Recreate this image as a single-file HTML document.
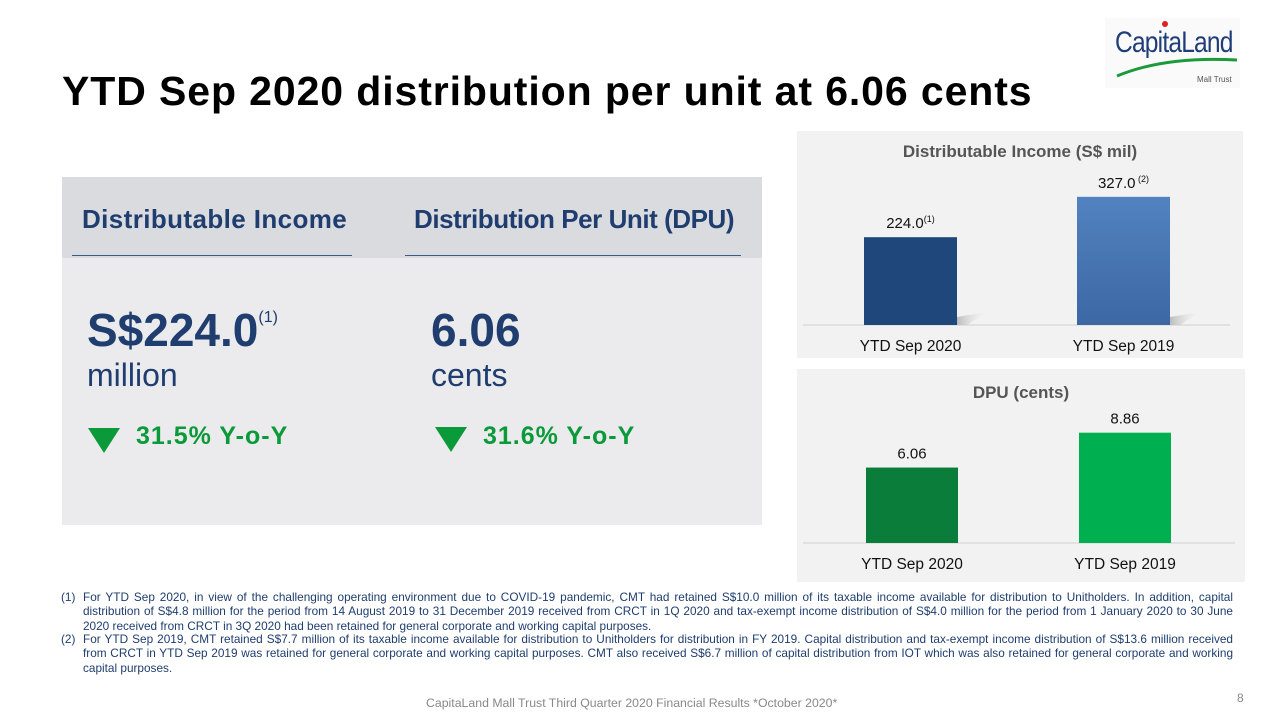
<!DOCTYPE html>
<html><head><meta charset="utf-8"><style>
body{margin:0;width:1273px;height:713px;position:relative;background:#fff;font-family:"Liberation Sans",sans-serif;overflow:hidden}
.a{position:absolute}
.fn{position:absolute;left:61px;width:1172px;font-size:11.8px;line-height:14.3px;color:#1f3d6e;text-align:justify}
.fn .n{position:absolute;left:0}
.fn .t{margin-left:22px;text-align:justify;text-align-last:left}
</style></head><body>
<div class="a" style="left:62px;top:68px;font-size:41px;font-weight:bold;color:#000;letter-spacing:0.9px">YTD Sep 2020 distribution per unit at 6.06 cents</div>
<div class="a" style="left:1105px;top:18px;width:135px;height:70px;background:#fafafa">
  <div class="a" style="left:10px;top:8px;font-size:30px;color:#1f3d7a;letter-spacing:-1px;transform:scaleX(0.82);transform-origin:left">CapitaLand</div>
  <div class="a" style="left:57px;top:3px;width:6px;height:6px;border-radius:50%;background:#e02020"></div>
  <svg class="a" style="left:10px;top:38px" width="125" height="22"><path d="M2 20 Q50 0 122 4" stroke="#1a9a3a" stroke-width="3" fill="none"/></svg>
  <div class="a" style="left:92px;top:57px;font-size:8px;color:#555">Mall Trust</div>
</div>

<div class="a" style="left:62px;top:177px;width:700px;height:348px;background:#ebebed">
  <div class="a" style="left:0;top:0;width:700px;height:81px;background:#dadbdf"></div>
  <div class="a" style="left:20px;top:27px;font-size:26px;font-weight:bold;color:#1f3d6e;letter-spacing:0.4px">Distributable Income</div>
  <div class="a" style="left:352px;top:27px;font-size:26px;font-weight:bold;color:#1f3d6e;letter-spacing:-0.45px">Distribution Per Unit (DPU)</div>
  <div class="a" style="left:10px;top:78px;width:280px;height:1px;background:#3b5a8a"></div>
  <div class="a" style="left:343px;top:78px;width:336px;height:1px;background:#3b5a8a"></div>
  <div class="a" style="left:25px;top:126px;font-size:46px;font-weight:bold;color:#1f3d6e;letter-spacing:0px">S$224.0<sup style="font-size:16px;font-weight:normal;vertical-align:24px">(1)</sup></div>
  <div class="a" style="left:25px;top:180px;font-size:32px;color:#1f3d6e">million</div>
  <div class="a" style="left:369px;top:126px;font-size:46px;font-weight:bold;color:#1f3d6e">6.06</div>
  <div class="a" style="left:369px;top:180px;font-size:32px;color:#1f3d6e">cents</div>
  <svg class="a" style="left:26px;top:251px" width="34" height="26"><polygon points="0,0 32,0 16,25" fill="#0a9a3a"/></svg>
  <div class="a" style="left:74px;top:245px;font-size:25px;font-weight:bold;color:#0a9a3a;letter-spacing:1px">31.5% Y-o-Y</div>
  <svg class="a" style="left:373px;top:250px" width="34" height="26"><polygon points="0,0 32,0 16,25" fill="#0a9a3a"/></svg>
  <div class="a" style="left:421px;top:245px;font-size:25px;font-weight:bold;color:#0a9a3a;letter-spacing:1px">31.6% Y-o-Y</div>
</div>

<div class="a" style="left:797px;top:131px;width:446px;height:227px;background:#f2f2f2"></div>
<div class="a" style="left:797px;top:142px;width:446px;text-align:center;font-size:17px;font-weight:bold;color:#555">Distributable Income (S$ mil)</div>
<div class="a" style="left:797px;top:369px;width:448px;height:213px;background:#f2f2f2"></div>
<div class="a" style="left:797px;top:383px;width:448px;text-align:center;font-size:17px;font-weight:bold;color:#555">DPU (cents)</div>
<svg class="a" style="left:0;top:0" width="1273" height="713" id="charts">
<defs>
<linearGradient id="g1" x1="0" y1="0" x2="0" y2="1"><stop offset="0" stop-color="#5282c0"/><stop offset="1" stop-color="#3c68a4"/></linearGradient>
<linearGradient id="sh" x1="0" y1="0" x2="1" y2="0"><stop offset="0" stop-color="#bbb"/><stop offset="1" stop-color="#eee" stop-opacity="0"/></linearGradient>
</defs>
</svg>

<div class="fn" style="top:590px"><span class="n">(1)</span><div class="t">For YTD Sep 2020, in view of the challenging operating environment due to COVID-19 pandemic, CMT had retained S$10.0 million of its taxable income available for distribution to Unitholders. In addition, capital distribution of S$4.8 million for the period from 14 August 2019 to 31 December 2019 received from CRCT in 1Q 2020 and tax-exempt income distribution of S$4.0 million for the period from 1 January 2020 to 30 June 2020 received from CRCT in 3Q 2020 had been retained for general corporate and working capital purposes.</div></div>
<div class="fn" style="top:632px"><span class="n">(2)</span><div class="t">For YTD Sep 2019, CMT retained S$7.7 million of its taxable income available for distribution to Unitholders for distribution in FY 2019. Capital distribution and tax-exempt income distribution of S$13.6 million received from CRCT in YTD Sep 2019 was retained for general corporate and working capital purposes. CMT also received S$6.7 million of capital distribution from IOT which was also retained for general corporate and working capital purposes.</div></div>
<div class="a" style="left:426px;top:696px;font-size:12.3px;color:#888">CapitaLand Mall Trust Third Quarter 2020 Financial Results *October 2020*</div>
<div class="a" style="left:1237px;top:691px;font-size:12px;color:#888">8</div>

<script>
const categories = ["YTD Sep 2020", "YTD Sep 2019"];
const incomeValues = [224.0, 327.0];
const incomeLabels = ["224.0", "327.0"];
const incomeNotes = ["(1)", "(2)"];
const dpuValues = [6.06, 8.86];
const dpuLabels = ["6.06", "8.86"];
const NS = "http://www.w3.org/2000/svg";
const svg = document.getElementById('charts');
function mk(tag, attrs){const e=document.createElementNS(NS,tag);for(const k in attrs)e.setAttribute(k,attrs[k]);svg.appendChild(e);return e;}
function drawChart(cfg){
  const y = v => cfg.base - v*cfg.scale;
  const axis = mk('line',{x1:cfg.left,x2:cfg.right,y1:cfg.base,y2:cfg.base,stroke:'#d0d0d0','stroke-width':1});
  
  
  cfg.values.forEach((v,i)=>{
    const x = cfg.x0 + i*cfg.step;
    if(cfg.shadow){
      const s = mk('polygon',{points:`${x+cfg.w},${cfg.base} ${x+cfg.w},${cfg.base-8} ${x+cfg.w+30},${cfg.base-13} ${x+cfg.w+10},${cfg.base}`,fill:'url(#sh)'});
      
      
    }
    const r = mk('rect',{x:x,y:y(v),width:cfg.w,height:cfg.base-y(v),fill:cfg.colors[i]});
    
    
    const t = mk('text',{x:x+cfg.w/2,y:y(v)-9,'text-anchor':'middle','font-size':15,fill:'#111','font-family':'Liberation Sans, sans-serif'});
    t.textContent = cfg.labels[i];
    if(cfg.notes){const ts=document.createElementNS(NS,'tspan');ts.setAttribute('font-size','9');ts.setAttribute('dy','-6');ts.textContent=(i==1?' ':'')+cfg.notes[i];t.appendChild(ts);}
    
    
    const c = mk('text',{x:x+cfg.w/2,y:cfg.base+26,'text-anchor':'middle','font-size':15.5,fill:'#111','font-family':'Liberation Sans, sans-serif'});
    c.textContent = categories[i];
    
    
  });
}
drawChart({name:'income',values:incomeValues,labels:incomeLabels,notes:incomeNotes,base:325,scale:0.392,x0:864,step:213,w:93,left:803,right:1230,colors:['#1f477c','url(#g1)'],shadow:true});
drawChart({name:'dpu',values:dpuValues,labels:dpuLabels,base:543,scale:12.45,x0:866,step:213,w:92,left:803,right:1235,colors:['#0a7d3a','#00b050'],shadow:false});
</script>
</body></html>
